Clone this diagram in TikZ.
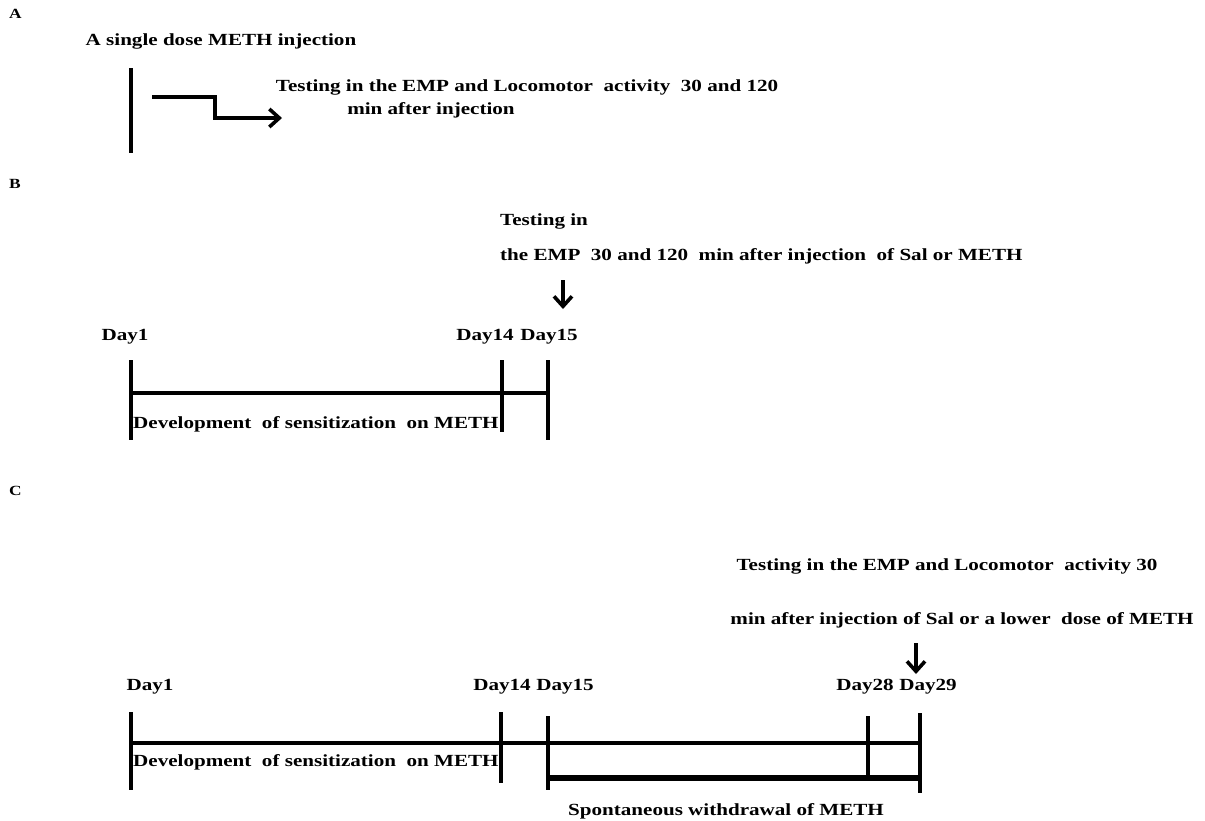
\documentclass[tikz,border=0pt]{standalone}
\usepackage{fontspec}
\setmainfont{Liberation Serif}[FakeStretch=1.24]
\usetikzlibrary{arrows.meta,positioning}

\begin{document}
\begin{tikzpicture}[x=1pt,y=-1pt,
    txt/.style={font=\bfseries\fontsize{17}{20}\selectfont, inner sep=0pt},
    panel/.style={font=\bfseries\fontsize{14}{16}\selectfont, inner sep=0pt, anchor=west},
    tick/.style={line width=3.6pt},
    axis/.style={line width=4.5pt},
    bar/.style={line width=5.5pt},
    pointer/.style={-{Straight Barb[length=10pt,width=18pt,line width=3.6pt]},line width=3.6pt}]

\useasboundingbox (0,0) rectangle (1205,820);

%%% Panel A
\node[panel] (pA) at (9,14) {A};
\node[txt] (doseA) at (221,41) {A single dose METH injection};
\coordinate (injAt) at (131,68);
\coordinate (injAb) at (131,153);
\draw[tick] (injAt) -- (injAb);
\node[txt] (testA1) at (527,87) {Testing in the EMP and Locomotor~ activity~ 30 and 120};
\node[txt] (testA2) at (431,110) {min after injection};
\coordinate (stepA) at (152,97);
\coordinate (tipA) at (282,118);
\draw[pointer] (stepA) -- (215,97) |- (tipA);

%%% Panel B
\node[panel] (pB) at (9,184) {B};
\node[txt,anchor=west] (testB1) at (500,221) {Testing in};
\node[txt,anchor=west] (testB2) at (500,256) {the EMP~ 30 and 120~ min after injection~ of Sal or METH};
\coordinate (arrBt) at (563,280);
\coordinate (arrBb) at (563,309);
\draw[pointer] (arrBt) -- (arrBb);

\node[txt] (dayBa) at (125,337) {Day1};
\node[txt] (dayBb) at (485,337) {Day14};
\node[txt] (dayBc) at (549,337) {Day15};
\foreach \n/\x/\t/\b in {a/131/360/440, b/502/360/432, c/548/360/440}{
  \coordinate (tB\n) at (\x,\t);
  \coordinate (bB\n) at (\x,\b);
  \draw[tick] (tB\n) -- (bB\n);
}
\coordinate (axBl) at (131,393);
\coordinate (axBr) at (548,393);
\draw[axis] (axBl) -- (axBr);
\node[txt,anchor=west] (devB) at (133,424) {Development~ of sensitization~ on METH};

%%% Panel C
\node[panel] (pC) at (9,491) {C};
\node[txt] (testC1) at (947,566) {Testing in the EMP and Locomotor~ activity 30};
\node[txt] (testC2) at (962,620) {min after injection of Sal or a lower~ dose of METH};
\coordinate (arrCt) at (916,643);
\coordinate (arrCb) at (916,674);
\draw[pointer] (arrCt) -- (arrCb);

\node[txt] (dayCa) at (150,687) {Day1};
\node[txt] (dayCb) at (502,687) {Day14};
\node[txt] (dayCc) at (565,687) {Day15};
\node[txt] (dayCd) at (865,687) {Day28};
\node[txt] (dayCe) at (928,687) {Day29};
\foreach \n/\x/\t/\b in {a/131/712/790, b/501/712/783, c/548/716/790, d/868/716/775, e/920/713/793}{
  \coordinate (tC\n) at (\x,\t);
  \coordinate (bC\n) at (\x,\b);
  \draw[tick] (tC\n) -- (bC\n);
}
\coordinate (axCl) at (131,743);
\coordinate (axCr) at (920,743);
\draw[axis] (axCl) -- (axCr);
\node[txt,anchor=west] (devC) at (133,762) {Development~ of sensitization~ on METH};

\coordinate (wdCl) at (548,778);
\coordinate (wdCr) at (920,778);
\draw[bar] (wdCl) -- (wdCr);
\node[txt] (wdC) at (726,811) {Spontaneous withdrawal of METH};
\end{tikzpicture}
\end{document}
